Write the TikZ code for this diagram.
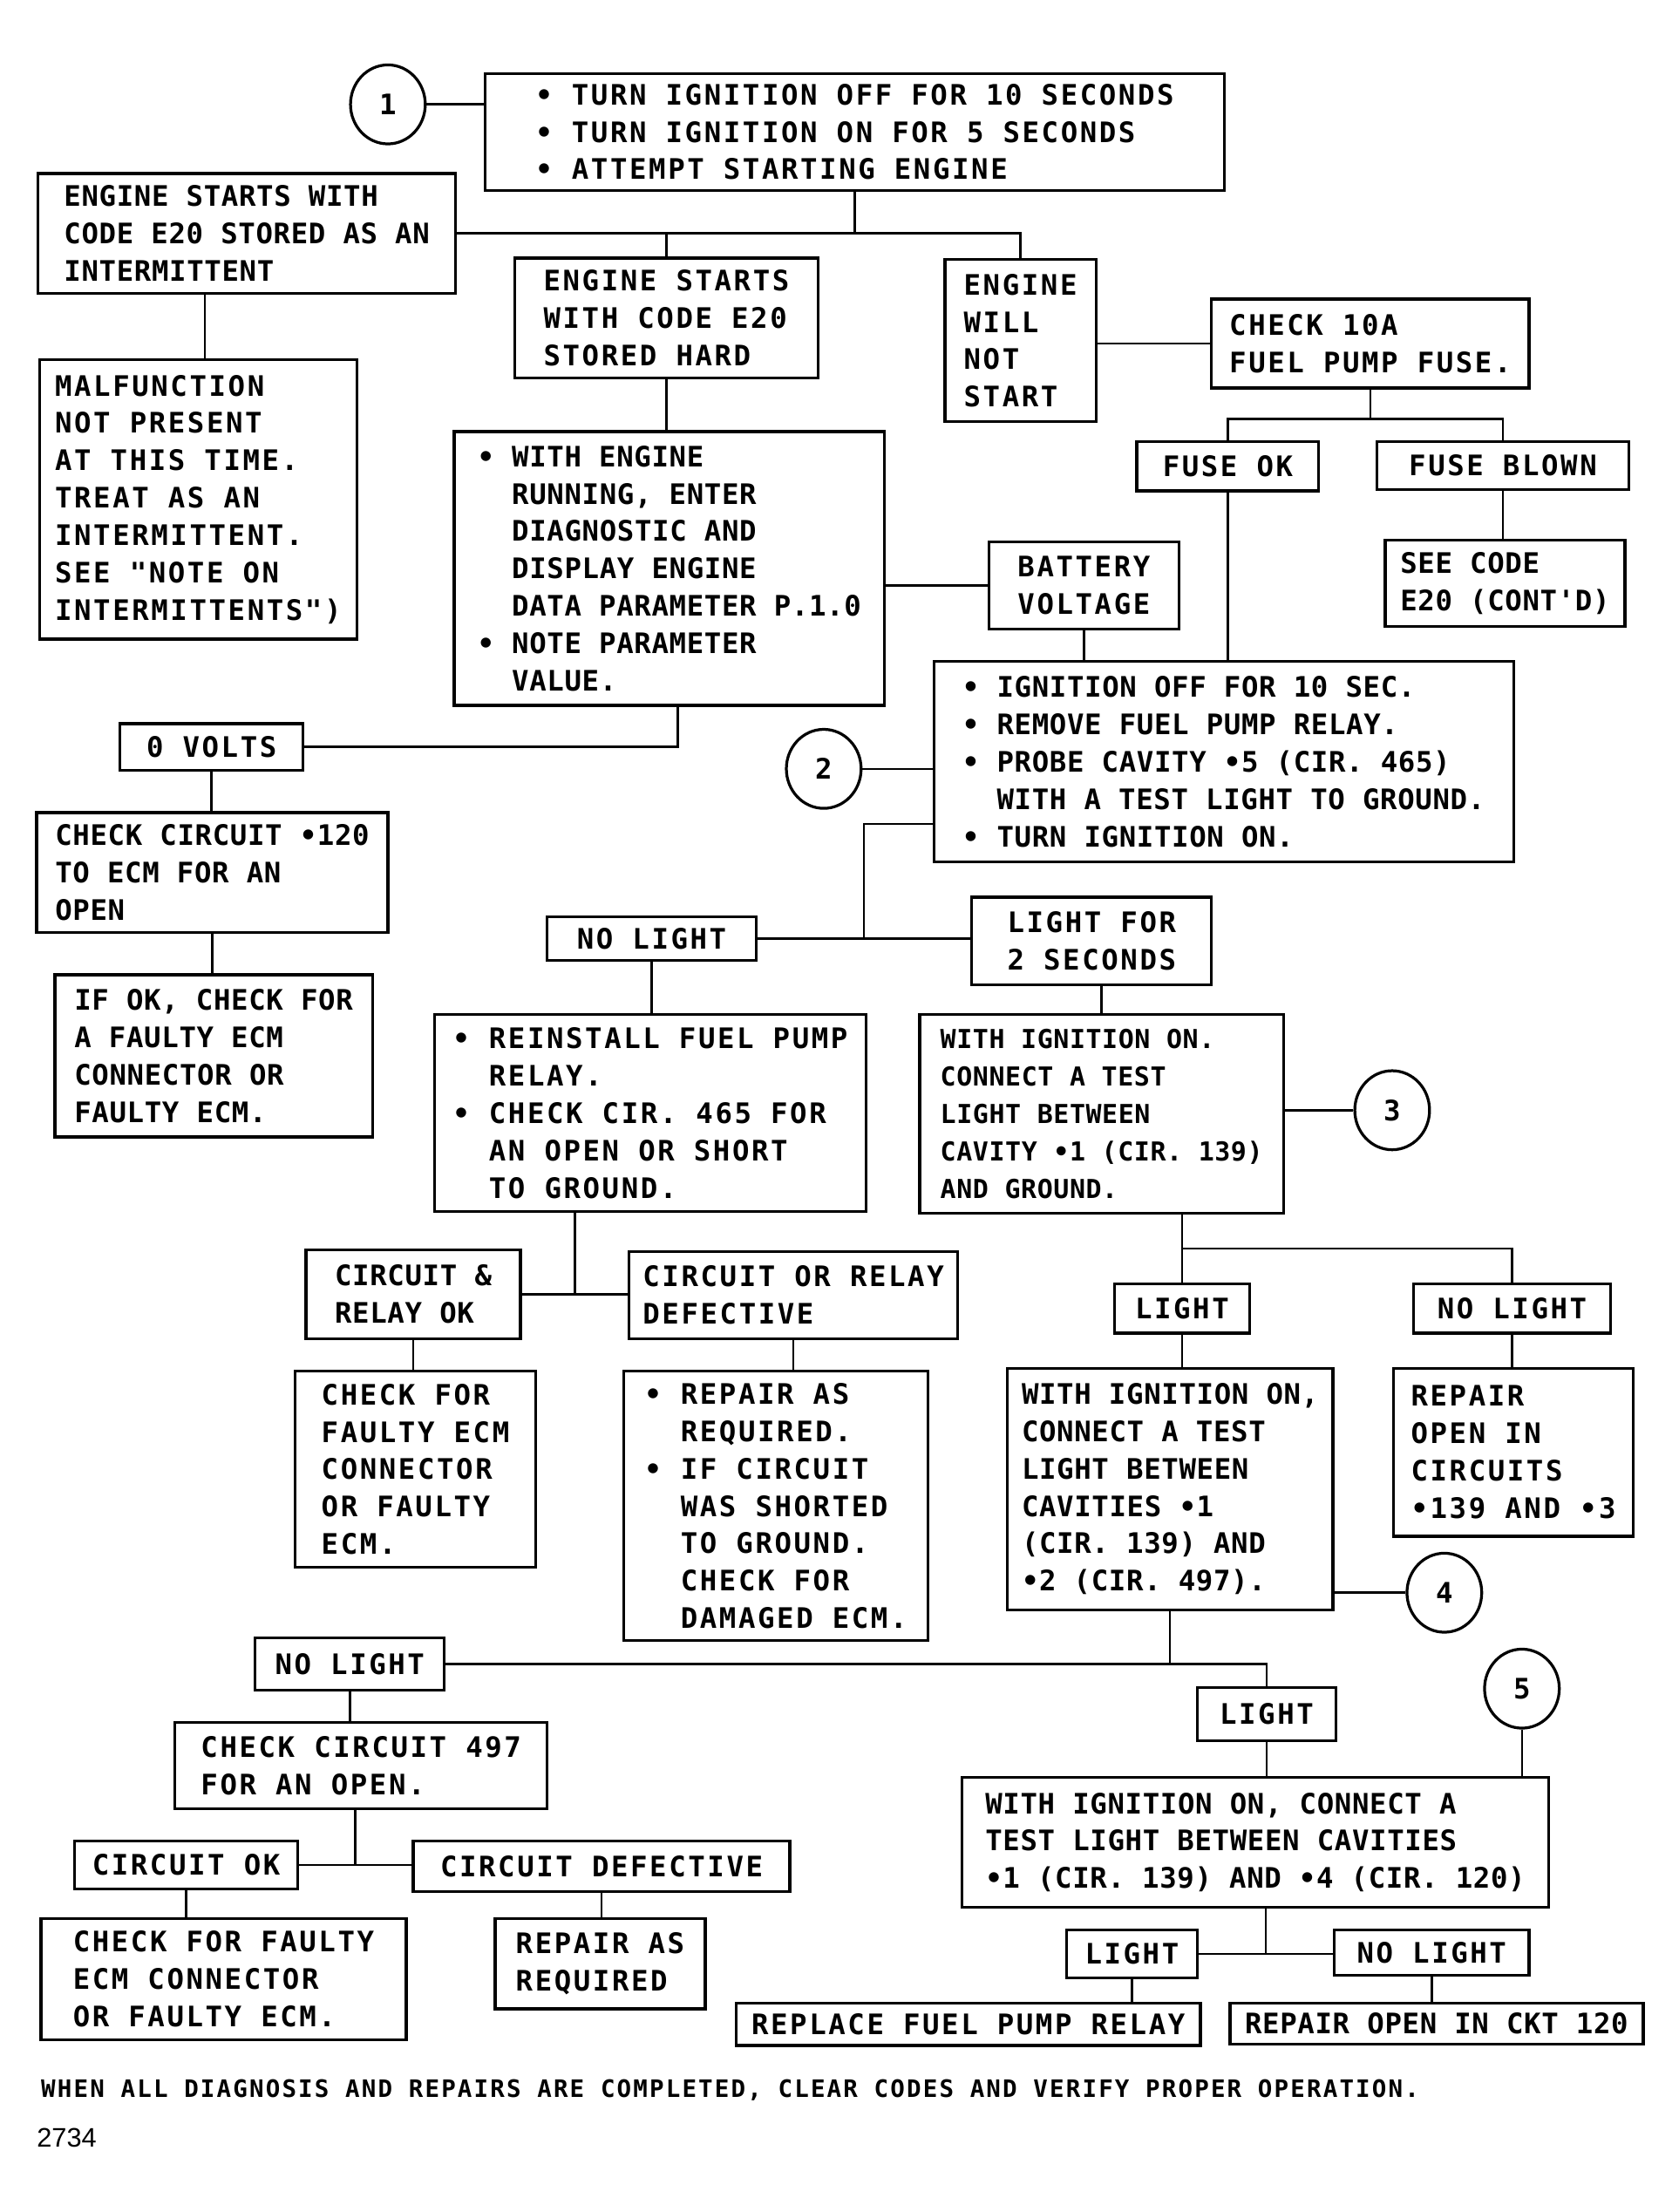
\documentclass[tikz,border=0pt]{standalone}
\usepackage{fontspec}
\setmainfont{Liberation Sans}
\newfontfamily\pltfont[LetterSpace=8]{DejaVu Sans Mono}
\newfontfamily\pltnarrow[LetterSpace=2]{DejaVu Sans Mono}
\newfontfamily\pltfoot[LetterSpace=7.8]{DejaVu Sans Mono}
\usepackage{tikz}
\usetikzlibrary{positioning,calc,shapes.geometric}

\newcommand\txtb{\pltfont\bfseries\fontsize{20}{26.5}\selectfont}
\newcommand\txtn{\pltnarrow\bfseries\fontsize{20}{26.5}\selectfont}
\newcommand\txts{\pltnarrow\bfseries\fontsize{18.5}{26.5}\selectfont}
\newcommand\txtf{\pltfoot\bfseries\fontsize{17}{20}\selectfont}
\newcommand\txtnum{\fontsize{19}{22}\selectfont}
\newcommand\indt{\hphantom{•\ }}

\begin{document}
\begin{tikzpicture}[
    x=1pt, y=-1pt,
    stepbox/.style 2 args={draw, line width=2pt, anchor=north west, align=left,
      inner sep=0pt, minimum width=#1pt, minimum height=#2pt, font=\txtb},
    stepnum/.style={draw, ellipse, line width=2pt, minimum width=53pt,
      minimum height=56pt, inner sep=0pt, font=\txtb},
    link/.style={line width=1.6pt}
  ]
  \fill[white] (0,0) rectangle (1190,1568);
  \useasboundingbox (0,0) rectangle (1190,1568);

  % start
  \node[stepnum] (c1) at (275,74) {1};
  \node[stepbox={524}{83}] (top) at (343,51) {• TURN IGNITION OFF FOR 10 SECONDS\\• TURN IGNITION ON FOR 5 SECONDS\\• ATTEMPT STARTING ENGINE};
  \node[stepbox={296}{85}, font=\txtn] (inter) at (26,122) {ENGINE STARTS WITH\\CODE E20 STORED AS AN\\INTERMITTENT};
  \node[stepbox={215}{85}] (hard) at (364,182) {ENGINE STARTS\\WITH CODE E20\\STORED HARD};
  \node[stepbox={107}{115}] (wns) at (669,183) {ENGINE\\WILL\\NOT\\START};
  \node[stepbox={225}{63}] (c10a) at (858,211) {CHECK 10A\\FUEL PUMP FUSE.};
  \node[stepbox={129}{35}] (fuseok) at (805,312) {FUSE OK};
  \node[stepbox={179}{34}] (fuseblown) at (975,312) {FUSE BLOWN};
  \node[stepbox={225}{198}] (malf) at (27,254) {MALFUNCTION\\NOT PRESENT\\AT THIS TIME.\\TREAT AS AN\\INTERMITTENT.\\SEE "NOTE ON\\INTERMITTENTS")};
  \node[stepbox={305}{194}, font=\txtn] (run) at (321,305) {• WITH ENGINE\\\indt RUNNING, ENTER\\\indt DIAGNOSTIC AND\\\indt DISPLAY ENGINE\\\indt DATA PARAMETER P.1.0\\• NOTE PARAMETER\\\indt VALUE.};
  \node[stepbox={135}{62}] (batt) at (700,383) {BATTERY\\VOLTAGE};
  \node[stepbox={170}{61}, font=\txtn] (seecode) at (981,382) {SEE CODE\\E20 (CONT'D)};

  % fuel pump relay test
  \node[stepnum] (c2) at (584,545) {2};
  \node[stepbox={411}{142}, font=\txtn] (ign) at (661,468) {• IGNITION OFF FOR 10 SEC.\\• REMOVE FUEL PUMP RELAY.\\• PROBE CAVITY •5 (CIR. 465)\\\indt WITH A TEST LIGHT TO GROUND.\\• TURN IGNITION ON.};
  \node[stepbox={130}{33}] (volts) at (84,512) {0 VOLTS};
  \node[stepbox={249}{85}, font=\txtn] (chk120) at (25,575) {CHECK CIRCUIT •120\\TO ECM FOR AN\\OPEN};
  \node[stepbox={225}{115}, font=\txtn] (ifok) at (38,690) {IF OK, CHECK FOR\\A FAULTY ECM\\CONNECTOR OR\\FAULTY ECM.};
  \node[stepbox={148}{31}] (nolt1) at (387,649) {NO LIGHT};
  \node[stepbox={170}{62}] (lt2s) at (688,635) {LIGHT FOR\\2 SECONDS};
  \node[stepbox={306}{140}] (rein) at (307,718) {• REINSTALL FUEL PUMP\\\indt RELAY.\\• CHECK CIR. 465 FOR\\\indt AN OPEN OR SHORT\\\indt TO GROUND.};
  \node[stepbox={258}{141}, font=\txts] (wio) at (651,718) {WITH IGNITION ON.\\CONNECT A TEST\\LIGHT BETWEEN\\CAVITY •1 (CIR. 139)\\AND GROUND.};
  \node[stepnum] (c3) at (987,787) {3};
  \node[stepbox={152}{63}, font=\txtn] (crok) at (216,885) {CIRCUIT \&\\RELAY OK};
  \node[stepbox={233}{62}] (cord) at (445,886) {CIRCUIT OR RELAY\\DEFECTIVE};
  \node[stepbox={171}{139}] (chkecm) at (208,971) {CHECK FOR\\FAULTY ECM\\CONNECTOR\\OR FAULTY\\ECM.};
  \node[stepbox={216}{191}] (repr) at (441,971) {• REPAIR AS\\\indt REQUIRED.\\• IF CIRCUIT\\\indt WAS SHORTED\\\indt TO GROUND.\\\indt CHECK FOR\\\indt DAMAGED ECM.};

  % cavity tests
  \node[stepbox={96}{35}] (light3) at (789,909) {LIGHT};
  \node[stepbox={140}{35}] (nolt3) at (1001,909) {NO LIGHT};
  \node[stepbox={231}{171}, font=\txtn] (wio2) at (713,969) {WITH IGNITION ON,\\CONNECT A TEST\\LIGHT BETWEEN\\CAVITIES •1\\(CIR. 139) AND\\•2 (CIR. 497).};
  \node[stepbox={170}{119}] (ropen) at (987,969) {REPAIR\\OPEN IN\\CIRCUITS\\•139 AND •3};
  \node[stepnum] (c4) at (1024,1129) {4};
  \node[stepbox={134}{37}] (nolt4) at (180,1160) {NO LIGHT};
  \node[stepbox={264}{61}] (c497) at (123,1220) {CHECK CIRCUIT 497\\FOR AN OPEN.};
  \node[stepbox={158}{34}] (cok) at (52,1304) {CIRCUIT OK};
  \node[stepbox={267}{36}] (cdef) at (292,1304) {CIRCUIT DEFECTIVE};
  \node[stepbox={259}{86}] (fecm) at (28,1359) {CHECK FOR FAULTY\\ECM CONNECTOR\\OR FAULTY ECM.};
  \node[stepbox={149}{64}] (rar) at (350,1359) {REPAIR AS\\REQUIRED};
  \node[stepbox={98}{38}] (light4) at (848,1195) {LIGHT};
  \node[stepnum] (c5) at (1079,1197) {5};
  \node[stepbox={416}{92}, font=\txtn] (wio3) at (681,1259) {WITH IGNITION ON, CONNECT A\\TEST LIGHT BETWEEN CAVITIES\\•1 (CIR. 139) AND •4 (CIR. 120)};
  \node[stepbox={93}{34}] (light5) at (755,1367) {LIGHT};
  \node[stepbox={138}{32}] (nolt5) at (945,1367) {NO LIGHT};
  \node[stepbox={329}{30}] (rfpr) at (521,1419) {REPLACE FUEL PUMP RELAY};
  \node[stepbox={293}{29}, font=\txtn] (rock) at (871,1419) {REPAIR OPEN IN CKT 120};

  \node[anchor=base west, inner sep=0pt, font=\txtf] (note) at (29,1487) {WHEN ALL DIAGNOSIS AND REPAIRS ARE COMPLETED, CLEAR CODES AND VERIFY PROPER OPERATION.};
  \node[anchor=base west, inner sep=0pt, font=\txtnum] (fig) at (26,1522) {2734};

  % connectors
  \draw[link] (c1.east) -- (c1.east -| top.west);
  \draw[link] (top.south) -- (top.south |- inter.east);
  \draw[link] (inter.east) -| (wns.north);
  \draw[link] (hard.north) -- (hard.north |- inter.east);
  \coordinate (j0) at ($(inter.south west)!.4!(inter.south east)$);
  \draw[link] (j0) -- (j0 |- malf.north);
  \draw[link] (hard.south) -- (hard.south |- run.north);
  \draw[link] (run.east |- batt.west) -- (batt.west);
  \coordinate (jr) at ($(run.south west)!.52!(run.south east)$);
  \draw[link] (volts.east) -| (jr);
  \draw[link] (volts.south) -- (volts.south |- chk120.north);
  \draw[link] (chk120.south) -- (chk120.south |- ifok.north);
  \draw[link] (wns.east |- c10a.west) -- (c10a.west);
  \draw[link] (c10a.south) -- ++(0,21) coordinate (j1);
  \draw[link] (fuseok.north) |- (j1) -| (fuseblown.north);
  \draw[link] (fuseblown.south) -- (fuseblown.south |- seecode.north);
  \draw[link] (fuseok.south) -- (fuseok.south |- ign.north);
  \draw[link] (batt.south) -- (batt.south |- ign.north);
  \draw[link] (c2.east) -- (c2.east -| ign.west);
  \draw[link] (nolt1.east) -- (nolt1.east -| lt2s.west);
  \coordinate (j2) at ($(nolt1.east)!.5!(nolt1.east -| lt2s.west)$);
  \draw[link] ([yshift=-44pt]ign.west) -| (j2);
  \draw[link] (nolt1.south) -- (nolt1.south |- rein.north);
  \draw[link] (wio.north) -- (wio.north |- lt2s.south);
  \draw[link] (c3.west) -- (c3.west -| wio.east);
  \draw[link] (crok.east) -- (crok.east -| cord.west);
  \coordinate (j3) at ($(crok.east)!.5!(crok.east -| cord.west)$);
  \draw[link] (j3) -- (j3 |- rein.south);
  \draw[link] (crok.south) -- (crok.south |- chkecm.north);
  \draw[link] (cord.south) -- (cord.south |- repr.north);
  \draw[link] (light3.north) -- (light3.north |- wio.south);
  \coordinate (j4) at ($(light3.north)!.5!(light3.north |- wio.south)$);
  \draw[link] (j4) -| (nolt3.north);
  \draw[link] (nolt3.south) -- (nolt3.south |- ropen.north);
  \draw[link] (light3.south) -- (light3.south |- wio2.north);
  \draw[link] (c4.west) -- (c4.west -| wio2.east);
  \draw[link] (nolt4.east) -| (light4.north);
  \draw[link] (wio2.south) -- (wio2.south |- nolt4.east);
  \draw[link] (nolt4.south) -- (nolt4.south |- c497.north);
  \draw[link] (cok.east) -- (cok.east -| cdef.west);
  \coordinate (j5) at ($(cok.east)!.5!(cok.east -| cdef.west)$);
  \draw[link] (j5) -- (j5 |- c497.south);
  \draw[link] (cok.south) -- (cok.south |- fecm.north);
  \draw[link] (cdef.south) -- (cdef.south |- rar.north);
  \draw[link] (light4.south) -- (light4.south |- wio3.north);
  \draw[link] (c5.south) -- (c5.south |- wio3.north);
  \draw[link] (light5.east) -- (light5.east -| nolt5.west);
  \coordinate (j6) at ($(light5.east)!.5!(light5.east -| nolt5.west)$);
  \draw[link] (j6) -- (j6 |- wio3.south);
  \draw[link] (light5.south) -- (light5.south |- rfpr.north);
  \draw[link] (nolt5.south) -- (nolt5.south |- rock.north);
\end{tikzpicture}
\end{document}
